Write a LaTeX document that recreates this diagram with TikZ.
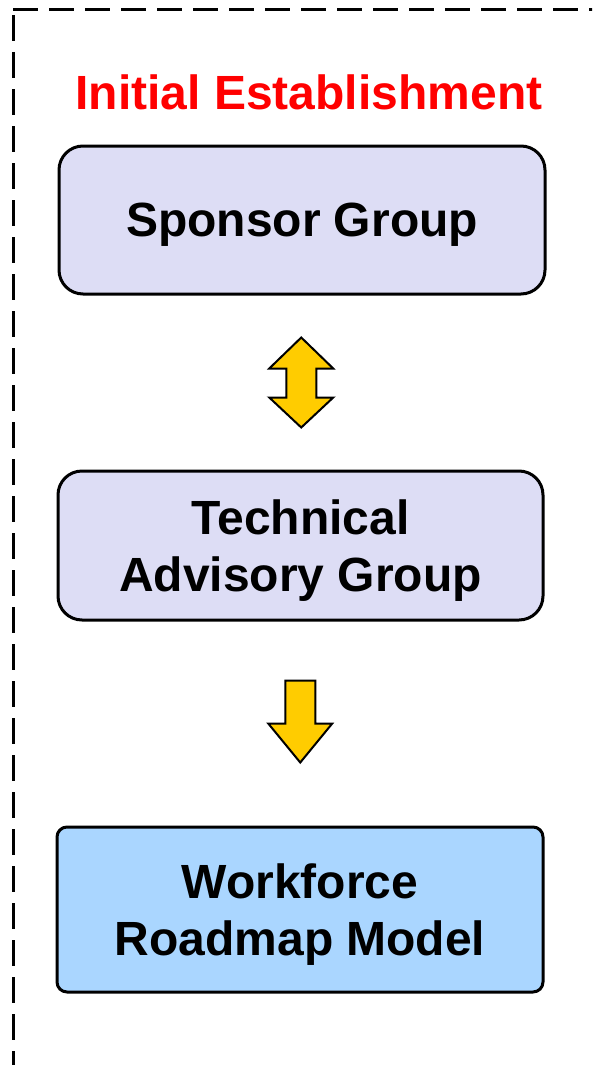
\documentclass[tikz,border=0pt]{standalone}
\usepackage{fontspec}
\setmainfont{Liberation Sans}
\usepackage{xcolor}
\usepackage{tikz}
\usetikzlibrary{calc}

\definecolor{boxlilac}{RGB}{221,221,245}
\definecolor{boxblue}{RGB}{170,214,255}
\definecolor{arrowgold}{RGB}{255,204,0}

\begin{document}
\begin{tikzpicture}[x=1pt,y=-1pt,
		groupbox/.style={draw=black,line width=3pt,rounded corners=24pt,fill=boxlilac,
			inner sep=0pt,align=center,text depth=0pt,font=\bfseries\fontsize{48}{57}\selectfont},
		blockarrow/.style={draw=black,line width=2pt,fill=arrowgold,line join=miter}]
		\clip (0,0) rectangle (592,1065);
		% frame of the stage
		\draw[line width=3pt,dash pattern=on 25pt off 11pt] (13,10) -- (600,10);
		\draw[line width=3pt,dash pattern=on 26pt off 11pt] (13,15) -- (13,1070);
		\node[anchor=base,text=red,font=\bfseries\fontsize{48}{57}\selectfont] (title) at (309,109) {Initial Establishment};
		\node[groupbox,minimum width=486pt,minimum height=148pt] (sponsor) at (302,220) {Sponsor Group};
		\node[groupbox,minimum width=485pt,minimum height=149pt] (tag) at (300.5,545.5) {Technical\\Advisory Group};
		\node[groupbox,fill=boxblue,rounded corners=10pt,minimum width=486pt,minimum height=165pt] (model) at (300,909.5) {Workforce\\Roadmap Model};
		% arrows between the groups
		\coordinate (twoway) at ($(sponsor.south)!0.5!(tag.north)$);
		\coordinate (oneway) at ($(tag.south)!0.5!(model.north)$);
		\draw[blockarrow] ($(twoway)+(0,-45)$) -- ++(32,31) -- ++(-17,0) -- ++(0,29) -- ++(17,0)
			-- ++(-32,30) -- ++(-32,-30) -- ++(17,0) -- ++(0,-29) -- ++(-17,0) -- cycle;
		\draw[blockarrow] ($(oneway)+(-15,-43)$) -- ++(30,0) -- ++(0,43) -- ++(17,0)
			-- ++(-32,39) -- ++(-32,-39) -- ++(17,0) -- cycle;
\end{tikzpicture}
\end{document}
